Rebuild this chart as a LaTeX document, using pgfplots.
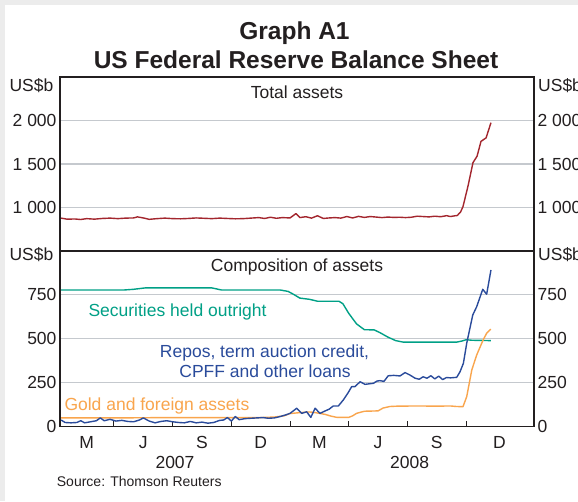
\documentclass[border=0pt]{standalone}
\usepackage{fontspec}
\setmainfont{Liberation Sans}
\usepackage{pgfplots}
\pgfplotsset{compat=1.18}
\definecolor{tcol}{HTML}{231F20}
\definecolor{rbared}{HTML}{A3262E}
\definecolor{rbateal}{HTML}{00A086}
\definecolor{rbablue}{HTML}{2A4B9B}
\definecolor{rbaorange}{HTML}{F9A54D}
\definecolor{gridc}{HTML}{C5C9CE}
\definecolor{bgc}{HTML}{ECECEC}
\newcommand{\lab}{\fontsize{17.5}{20}\selectfont}
\pgfplotsset{
  panel/.style={
    scale only axis, width=474pt, xmin=0.24, xmax=24.47,
    axis line style={line width=1.3pt, color=tcol},
    ymajorgrids, grid style={line width=1.1pt, color=gridc},
    ytick style={draw=none},
    tick label style={font=\lab, text=tcol},
    /pgf/number format/assume math mode=true,
    every axis plot/.append style={line width=1.4pt, line join=round},
  },
}
\begin{document}
\begin{tikzpicture}
\useasboundingbox (0pt,0pt) rectangle (578pt,501pt);
\fill[bgc] (0pt,0pt) rectangle (578pt,501pt);
\fill[white] (5pt,0pt) rectangle (578pt,496pt);
% titles
\node[anchor=base, inner sep=0pt, text=tcol, font=\fontsize{24.5}{28}\selectfont\bfseries] at (294.5pt,461pt) {Graph A1};
\node[anchor=base, inner sep=0pt, text=tcol, font=\fontsize{24.5}{28}\selectfont\bfseries] at (296pt,432.7pt) {US Federal Reserve Balance Sheet};

% ---------- top panel ----------
\begin{axis}[panel, at={(60pt,250pt)}, anchor=south west, height=174pt,
  ymin=500, ymax=2500, ytick={1000,1500,2000}, yticklabels={1 000,1 500,2 000},
  xtick=\empty]
\addplot[rbared] coordinates {
(0.3,878)(0.6,866)(1.0,868)(1.3,862)(1.6,872)(2.0,866)(2.4,874)(2.8,878)(3.2,872)(3.6,878)
(4.0,880)(4.2,892)(4.5,880)(4.8,864)(5.2,872)(5.6,878)(6.0,872)(6.4,870)(6.8,874)(7.2,880)
(7.6,876)(8.0,872)(8.4,878)(8.8,874)(9.2,870)(9.6,872)(10.0,878)(10.4,884)(10.7,874)(11.0,888)
(11.3,876)(11.6,884)(12.0,880)(12.3,930)(12.5,884)(12.8,894)(13.1,878)(13.4,905)(13.7,874)(14.0,880)
(14.3,884)(14.6,878)(14.9,896)(15.2,880)(15.5,898)(15.8,886)(16.1,896)(16.4,890)(16.7,884)(17.0,890)
(17.3,886)(17.6,888)(17.9,884)(18.2,888)(18.5,900)(18.8,896)(19.1,892)(19.4,900)(19.7,894)(20.0,906)
(20.2,896)(20.4,904)(20.55,908)(20.72,950)(20.84,1010)(21.1,1250)(21.35,1515)(21.56,1590)(21.76,1760)(22.02,1800)(22.27,1975)
};
\end{axis}
\begin{axis}[panel, at={(60pt,250pt)}, anchor=south west, height=174pt,
  ymin=500, ymax=2500, ytick={1000,1500,2000}, yticklabels={1 000,1 500,2 000},
  xtick=\empty, yticklabel pos=right, ymajorgrids=false, axis line style={draw=none}]
\end{axis}

% ---------- bottom panel ----------
\begin{axis}[panel, at={(60pt,74.3pt)}, anchor=south west, height=175.7pt,
  ymin=0, ymax=1000, ytick={0,250,500,750},
  xtick={3,6,9,12,15,18,21}, xticklabels={,,,,,,}, xtick pos=bottom, xtick align=inside,
  major tick length=6pt, x tick style={line width=1pt, color=tcol},
  extra x ticks={1.6,4.5,7.5,10.5,13.5,16.5,19.5,22.7},
  extra x tick labels={M,J,S,D,M,J,S,D},
  extra x tick style={major tick length=0pt, xticklabel style={anchor=base, yshift=-22pt}}]
\addplot[rbateal] coordinates {
(0.3,778)(3.5,778)(4.0,782)(4.6,790)(8.0,790)(8.5,778)(11.5,778)(11.9,770)(12.2,752)(12.5,732)
(13.0,725)(13.4,714)(14.5,714)(14.7,700)(15.0,645)(15.4,585)(15.8,552)(16.3,551)(16.6,535)(17.0,510)
(17.4,490)(17.8,481)(20.5,481)(20.8,488)(21.0,495)(21.3,492)(22.27,490)
};
\addplot[rbaorange] coordinates {
(0.3,50)(3,50)(6,52)(9,52)(10.5,52)(11.2,55)(11.7,62)(12.0,75)(12.5,80)(13.0,84)
(13.3,80)(13.8,70)(14.1,60)(14.4,53)(15.0,53)(15.2,62)(15.4,76)(15.8,88)(16.5,90)(16.75,106)
(17.1,115)(17.5,117)(18.5,118)(19.5,117)(20.2,118)(20.5,115)(20.84,114)(21.03,171)(21.29,323)(21.54,408)
(21.87,494)(22.05,532)(22.26,555)
};
\addplot[rbablue] coordinates {
(0.3,38)(0.5,24)(0.8,22)(1.1,24)(1.3,34)(1.5,22)(1.8,28)(2.1,34)(2.3,50)(2.5,34)
(2.8,42)(3.1,32)(3.4,36)(3.7,30)(4.0,28)(4.3,38)(4.5,50)(4.8,32)(5.1,22)(5.4,30)
(5.7,34)(6.0,28)(6.3,24)(6.6,22)(6.9,30)(7.2,22)(7.5,26)(7.8,20)(8.1,24)(8.4,36)
(8.6,38)(8.8,52)(9.0,32)(9.2,58)(9.4,40)(9.7,46)(10.0,48)(10.3,50)(10.6,52)(10.9,48)
(11.2,50)(11.5,58)(11.8,68)(12.0,76)(12.34,105)(12.6,76)(12.85,85)(13.06,53)(13.28,105)(13.53,76)
(13.8,90)(14.0,100)(14.21,118)(14.47,118)(14.72,152)(14.95,190)(15.15,228)(15.32,228)(15.58,256)(15.83,241)
(16.26,247)(16.45,260)(16.6,262)(16.8,258)(17.02,290)(17.3,292)(17.62,289)(17.88,308)(18.13,294)(18.39,276)
(18.6,270)(18.8,284)(19.0,276)(19.2,290)(19.4,272)(19.6,288)(19.8,268)(20.0,280)(20.2,278)(20.52,281)
(20.69,313)(20.86,361)(21.03,475)(21.34,636)(21.54,683)(21.85,782)(22.05,754)(22.27,892)
};
\end{axis}
\begin{axis}[panel, at={(60pt,74.3pt)}, anchor=south west, height=175.7pt,
  ymin=0, ymax=1000, ytick={0,250,500,750},
  xtick=\empty, yticklabel pos=right, ymajorgrids=false, axis line style={draw=none}]
\end{axis}

% panel and axis texts
\node[anchor=base, inner sep=0pt, text=tcol, font=\lab] at (297pt,402.7pt) {Total assets};
\node[anchor=base, inner sep=0pt, text=tcol, font=\lab] at (297pt,229pt) {Composition of assets};
\node[anchor=center, inner sep=0pt, text=tcol, font=\lab] at (31.5pt,415pt) {US\$b};
\node[anchor=center, inner sep=0pt, text=tcol, font=\lab] at (31.5pt,246pt) {US\$b};
\node[anchor=west, inner sep=0pt, text=tcol, font=\lab] at (538pt,415pt) {US\$b};
\node[anchor=west, inner sep=0pt, text=tcol, font=\lab] at (538pt,246pt) {US\$b};
\node[anchor=base west, inner sep=0pt, text=rbateal, font=\lab] at (88.3pt,184.3pt) {Securities held outright};
\node[anchor=base, inner sep=0pt, text=rbablue, font=\lab] at (264.5pt,143.7pt) {Repos, term auction credit,};
\node[anchor=base, inner sep=0pt, text=rbablue, font=\lab] at (265pt,123.7pt) {CPFF and other loans};
\node[anchor=base west, inner sep=0pt, text=rbaorange, font=\lab] at (64.3pt,91pt) {Gold and foreign assets};
\node[anchor=center, inner sep=0pt, text=tcol, font=\lab] at (175pt,38.7pt) {2007};
\node[anchor=center, inner sep=0pt, text=tcol, font=\lab] at (409.7pt,38.7pt) {2008};
\node[anchor=base west, inner sep=0pt, text=tcol, font=\fontsize{14}{16}\selectfont] at (56.7pt,15pt) {Source: Thomson Reuters};
\end{tikzpicture}
\end{document}
